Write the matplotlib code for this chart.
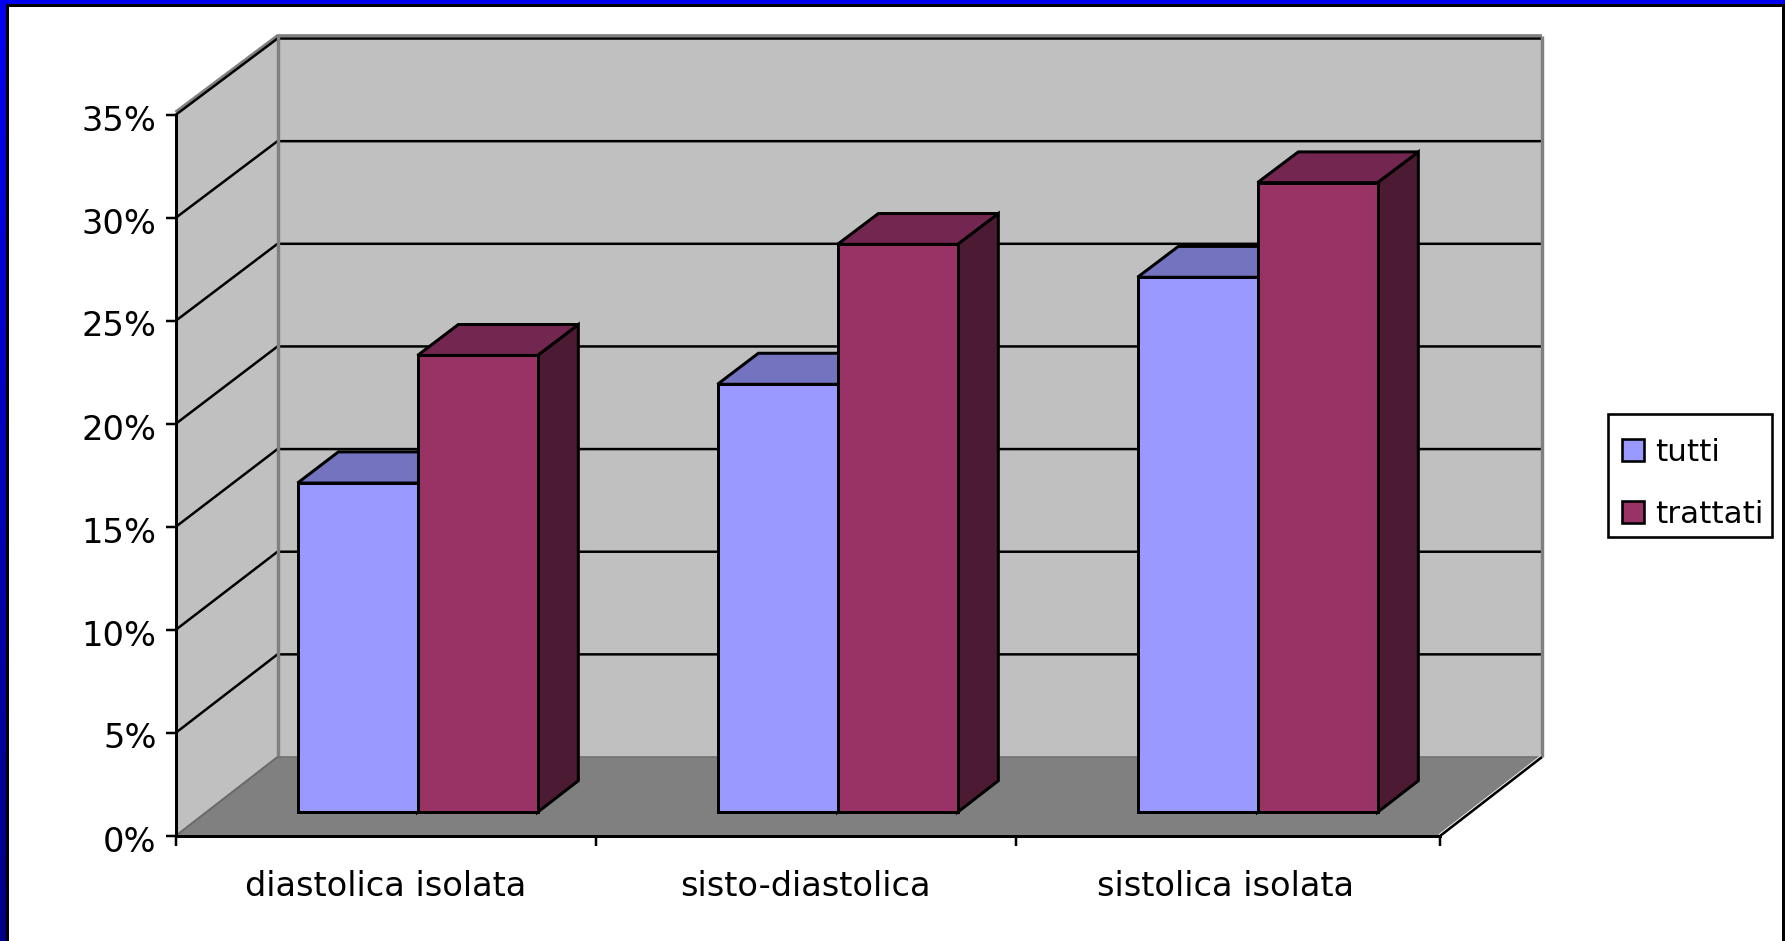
import numpy as np
import matplotlib
matplotlib.use("Agg")
import matplotlib.pyplot as plt
import matplotlib.transforms as mtrans
from matplotlib.patches import Polygon, Patch, Rectangle
from matplotlib.ticker import PercentFormatter

categories = ["diastolica isolata", "sisto-diastolica", "sistolica isolata"]
series_names = ["tutti", "trattati"]
tutti = [16.0, 20.8, 26.0]
trattati = [22.2, 27.6, 30.6]
y_ticks = [0, 5, 10, 15, 20, 25, 30, 35]

FRONT = {"tutti": "#9999FF", "trattati": "#993366"}
TOP = {"tutti": "#7373BF", "trattati": "#732650"}
SIDE = {"tutti": "#4D4D80", "trattati": "#4D1A33"}
WALL, FLOOR, EDGE = "#C0C0C0", "#808080", "#808080"

W, H = 1785, 941
plt.rcParams["font.family"] = ["DejaVu Sans"]
FS = 24.2
LEGEND_FS = 22.3
PX = 0.72  # points per pixel at 100 dpi

fig = plt.figure(figsize=(W / 100, H / 100), dpi=100, facecolor="white")

# Slide frame: blue gradient on the left, blue strip on top, thin black rule inside.
bg = fig.add_axes([0, 0, 1, 1], zorder=0)
grad = np.zeros((256, 1, 3))
grad[:, 0, 2] = np.linspace(0.94, 0.52, 256)
bg.imshow(grad, extent=(0, 6, H, 0), aspect="auto", zorder=1)
bg.set_xlim(0, W)
bg.set_ylim(H, 0)
bg.axis("off")
bg.add_patch(Rectangle((0, 0), W, 4, fc="#0000EE", ec="none", zorder=2))
bg.add_patch(Rectangle((6, 4), W, 3, fc="black", ec="none", zorder=2))
bg.add_patch(Rectangle((6, 4), 2.6, H, fc="black", ec="none", zorder=2))
bg.add_patch(Rectangle((W - 3, 4), 3, H, fc="black", ec="none", zorder=2))
# Legend frame
bg.add_patch(Rectangle((1607.5, 414), 164.5, 123, fc="white", ec="black", lw=2.6 * PX, zorder=2))

# Front plane of the chart box; depth is projected into these data units.
# The last category slot runs slightly longer than the other two.
ax_left, ax_right, ax_top, ax_bottom = 175.5, 1440.0, 115.0, 836.0
SLOT_PX = 420.0
x_end = (ax_right - ax_left) / SLOT_PX
ax = fig.add_axes([ax_left / W, 1 - ax_bottom / H,
                   (ax_right - ax_left) / W, (ax_bottom - ax_top) / H], zorder=1)
ax.set_xlim(0, x_end)
ax.set_ylim(0, 35)
ax.patch.set_visible(False)

DEPTH_X = 102 / SLOT_PX
DEPTH_Y = 79 / ((ax_bottom - ax_top) / 35)
BACK_SCALE = 0.9965


def project(x, v, d):
    return (x + d * DEPTH_X, v * (1 - d * (1 - BACK_SCALE)) + d * DEPTH_Y)


def poly(points, fc, ec="none", lw=0.0, z=1):
    ax.add_patch(Polygon([project(*p) for p in points], closed=True, fc=fc, ec=ec,
                         lw=lw, joinstyle="miter", clip_on=False, zorder=z))


def line(points, color, lw, z=2):
    xs, ys = zip(*[project(*p) for p in points])
    ax.plot(xs, ys, color=color, lw=lw, clip_on=False, zorder=z,
            solid_capstyle="butt", solid_joinstyle="miter")


top_v = y_ticks[-1]
n = len(categories)

# Walls and floor
poly([(0, 0, 1), (x_end, 0, 1), (x_end, top_v, 1), (0, top_v, 1)], WALL)
poly([(0, 0, 0), (0, 0, 1), (0, top_v, 1), (0, top_v, 0)], WALL)
poly([(0, 0, 0), (x_end, 0, 0), (x_end, 0, 1), (0, 0, 1)], FLOOR)

# Grey top edge sits just above the highest gridline
RIM = 0.14
line([(0, top_v + RIM, 0), (0, top_v + RIM, 1), (x_end, top_v + RIM, 1)], EDGE, 3.0 * PX, z=1.5)

# Gridlines run along the side wall and across the back wall
for v in y_ticks[1:]:
    line([(0, v, 0), (0, v, 1), (x_end, v, 1)], "black", 2.5 * PX)

# Grey wall outlines
line([(0, 0, 1), (0, top_v + RIM, 1)], EDGE, 3.4 * PX, z=3)
line([(x_end, 0, 1), (x_end, top_v + RIM, 1)], EDGE, 3.4 * PX, z=3)
line([(0, 0, 1), (x_end, 0, 1)], "#707070", 1.6 * PX, z=3)
line([(0, 0, 0), (0, 0, 1)], "#6A6A6A", 2.0 * PX, z=3)
line([(x_end, 0, 0), (x_end, 0, 1)], "white", 4.4 * PX, z=3)
line([(x_end, 0, 0), (x_end, 0, 1)], "black", 2.6 * PX, z=3)

# Bars: two per category, 150% gap width and 150% gap depth
BAR_W = 1 / 3.5
D0, D1 = 0.3, 0.7
BAR_LW = 3.0 * PX
for i in range(n):
    for j, (name, values) in enumerate(zip(series_names, [tutti, trattati])):
        left = i + 0.762 * BAR_W + j * BAR_W
        right = left + BAR_W
        v = values[i]
        poly([(right, 0, D0), (right, 0, D1), (right, v, D1), (right, v, D0)],
             SIDE[name], "black", BAR_LW, z=4)
        poly([(left, v, D0), (right, v, D0), (right, v, D1), (left, v, D1)],
             TOP[name], "black", BAR_LW, z=4)
        poly([(left, 0, D0), (right, 0, D0), (right, v, D0), (left, v, D0)],
             FRONT[name], "black", BAR_LW, z=4)

# Axes
for s in ("top", "right"):
    ax.spines[s].set_visible(False)
for s in ("left", "bottom"):
    ax.spines[s].set_linewidth(3.0 * PX)
    ax.spines[s].set_zorder(5)
ax.set_yticks(y_ticks)
ax.yaxis.set_major_formatter(PercentFormatter(decimals=0))
ax.tick_params(axis="y", length=10 * PX, width=2.5 * PX, pad=6.5, labelsize=FS)
nudge = mtrans.ScaledTranslation(0, -2.5 / 100, fig.dpi_scale_trans)
for t in ax.get_yticklabels():
    t.set_transform(t.get_transform() + nudge)
ax.set_xticks(list(range(n)) + [x_end])
ax.set_xticklabels([])
ax.set_xticks([i + 0.5 for i in range(n)], minor=True)
ax.set_xticklabels(categories, minor=True, fontsize=FS)
ax.tick_params(axis="x", which="major", length=10 * PX, width=2.5 * PX)
ax.tick_params(axis="x", which="minor", length=0, pad=24.5)

# Legend rows
handles = [Patch(fc=FRONT[s], ec="black", lw=2.6 * PX, label=s) for s in series_names]
leg = fig.legend(handles=handles, loc="upper left",
                 bbox_to_anchor=(1622 / W, 1 - 438 / H), fontsize=LEGEND_FS,
                 frameon=False, handlelength=0.71, handleheight=0.71, handletextpad=0.36,
                 labelspacing=1.07, borderpad=0, borderaxespad=0)
leg.set_zorder(6)

fig.savefig("out.png", dpi=100, facecolor="white")
